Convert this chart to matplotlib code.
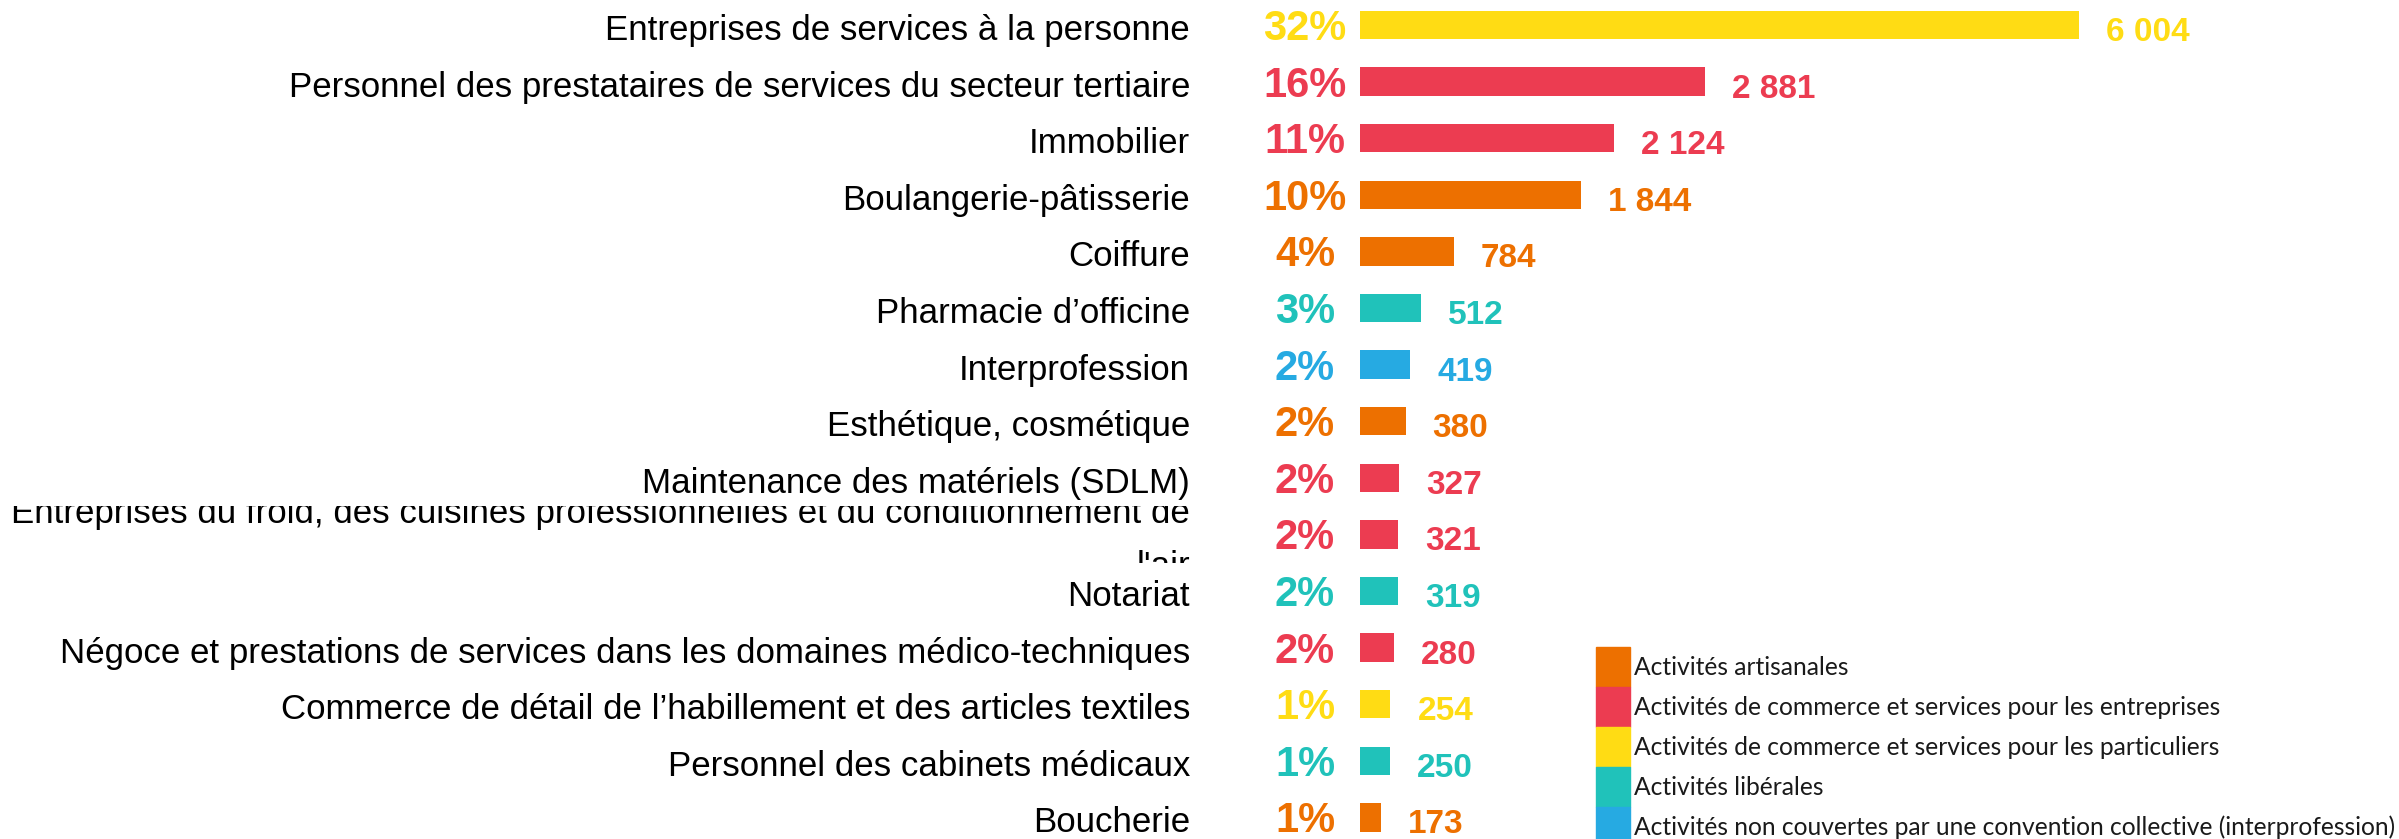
import matplotlib.pyplot as plt
import matplotlib.transforms as mtransforms
from matplotlib.patches import Patch

# data
categories = [
    "Entreprises de services à la personne",
    "Personnel des prestataires de services du secteur tertiaire",
    "Immobilier",
    "Boulangerie-pâtisserie",
    "Coiffure",
    "Pharmacie d’officine",
    "Interprofession",
    "Esthétique, cosmétique",
    "Maintenance des matériels (SDLM)",
    "Entreprises du froid, des cuisines professionnelles et du conditionnement de\nl'air",
    "Notariat",
    "Négoce et prestations de services dans les domaines médico-techniques",
    "Commerce de détail de l’habillement et des articles textiles",
    "Personnel des cabinets médicaux",
    "Boucherie",
]
effectifs = [6004, 2881, 2124, 1844, 784, 512, 419, 380, 327, 321, 319, 280, 254, 250, 173]
parts = [32, 16, 11, 10, 4, 3, 2, 2, 2, 2, 2, 2, 1, 1, 1]
groupe = [2, 1, 1, 0, 0, 3, 4, 0, 1, 1, 3, 1, 2, 3, 0]

groupes = [
    "Activités artisanales",
    "Activités de commerce et services pour les entreprises",
    "Activités de commerce et services pour les particuliers",
    "Activités libérales",
    "Activités non couvertes par une convention collective (interprofession)",
]
couleurs = ["#ED7000", "#EC3C51", "#FFDC14", "#20C2BA", "#26AAE2"]

W, H = 2399, 839
fig = plt.figure(figsize=(W / 100, H / 100), dpi=100)
x0 = 1360
ax = fig.add_axes([x0 / W, 0, 1 - x0 / W, 1])
ax.set_xlim(0, (W - x0) / 0.1198)
ax.set_ylim((H - 25) / 56.6, -25 / 56.6)
ax.axis("off")

cols = [couleurs[g] for g in groupe]
ax.barh(range(len(effectifs)), effectifs, height=0.5, color=cols)

blend = mtransforms.blended_transform_factory(fig.transFigure, ax.transData)
for i, (lab, v, p, c) in enumerate(zip(categories, effectifs, parts, cols)):
    # valeur
    ax.annotate(f"{v:,}".replace(",", " "), xy=(v, i), xytext=(27, -16),
                textcoords="offset pixels", ha="left", va="baseline",
                color=c, fontsize=24, fontweight="bold",
                family="Liberation Sans", annotation_clip=False)
    # pourcentage
    ax.annotate(f"{p}%", xy=(0, i), xytext=(-55, -15),
                textcoords="offset pixels", ha="center", va="baseline",
                color=c, fontsize=30, fontweight="bold",
                family="Liberation Sans", annotation_clip=False)
    # libellé, coupé à la hauteur de la ligne
    t = fig.text(1190 / W, i, lab, transform=blend, ha="right", va="center",
                 multialignment="right", fontsize=25.15, family="Liberation Sans",
                 color="black", linespacing=1.8)
    t.set_transform(blend + mtransforms.ScaledTranslation(0, -5.5 / 100, fig.dpi_scale_trans))
    t.set_clip_box(mtransforms.TransformedBbox(
        mtransforms.Bbox([[0, i - 0.5], [1, i + 0.5]]), blend))
    t.set_clip_on(True)

leg_size = 17.7
fs = leg_size * 100 / 72
# hauteur du carré de légende ~40 px
hh = (40 - 0.245 * fs) / (0.65 * fs)
handles = [Patch(color=c) for c in couleurs]
fig.legend(handles, groupes, loc="upper left",
           bbox_to_anchor=(1596 / W, (H - 647) / H), frameon=False,
           borderpad=0, borderaxespad=0, labelspacing=0,
           handlelength=34 / fs, handleheight=hh, handletextpad=4 / fs,
           prop={"family": "Lato", "size": leg_size}, labelcolor="#1a1a1a")

fig.savefig("out.png", dpi=100)
